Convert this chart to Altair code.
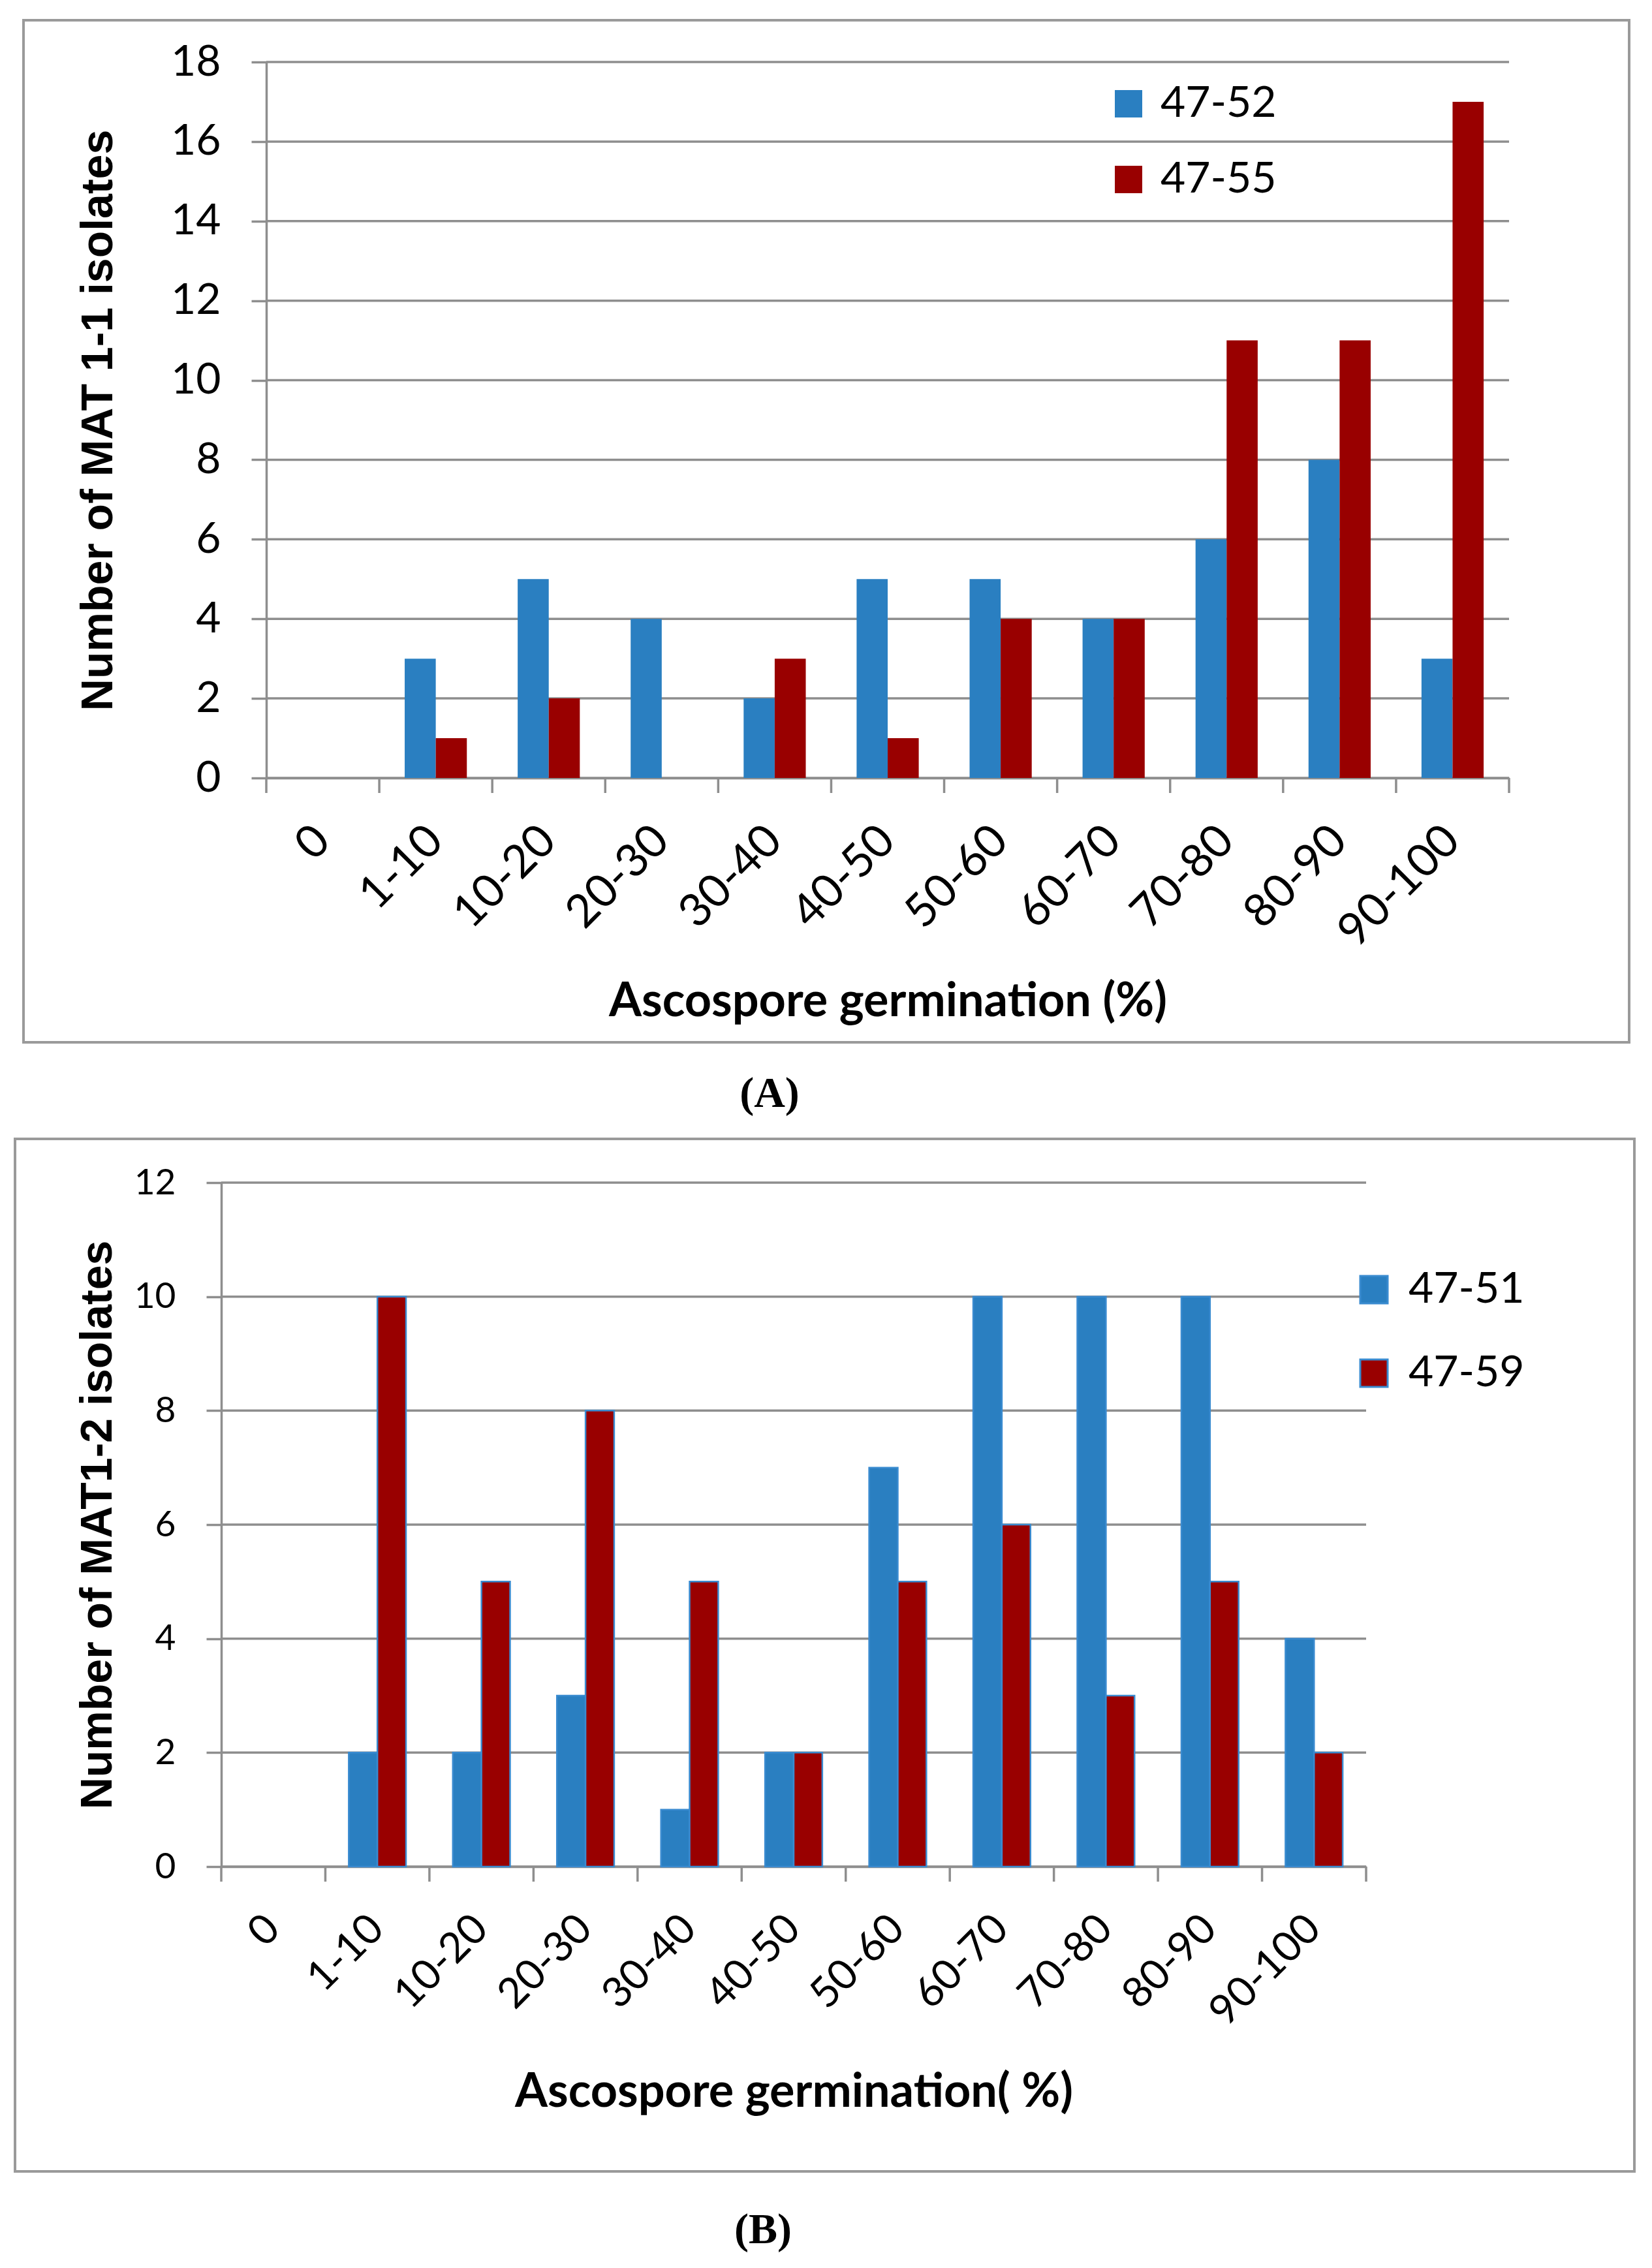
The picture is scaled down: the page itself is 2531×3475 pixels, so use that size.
import altair as alt
import pandas as pd

categories = ["0", "1-10", "10-20", "20-30", "30-40", "40-50", "50-60",
              "60-70", "70-80", "80-90", "90-100"]

a_series = ["47-52", "47-55"]
a_4752 = [0, 3, 5, 4, 2, 5, 5, 4, 6, 8, 3]
a_4755 = [0, 1, 2, 0, 3, 1, 4, 4, 11, 11, 17]
a_yticks = [0, 2, 4, 6, 8, 10, 12, 14, 16, 18]

b_series = ["47-51", "47-59"]
b_4751 = [0, 2, 2, 3, 1, 2, 7, 10, 10, 10, 4]
b_4759 = [0, 10, 5, 8, 5, 2, 5, 6, 3, 5, 2]
b_yticks = [0, 2, 4, 6, 8, 10, 12]

BLUE = "#2a7fc1"
RED = "#990000"
GRAY = "#8e8e8e"
FRAME = "#9a9a9a"


def long_df(series, v1, v2):
    rows = []
    for c, a, b in zip(categories, v1, v2):
        rows.append({"cat": c, "series": series[0], "value": a})
        rows.append({"cat": c, "series": series[1], "value": b})
    return pd.DataFrame(rows)


def panel(series, v1, v2, yticks, ymax, w, h, x0, ytitle, xtitle,
          ytick_fs, xtick_fs, ytitle_x, xtitle_y,
          leg_x, leg_y, leg_off, leg_row, bar_stroke,
          cell, frame, caption, cap_xy):
    # x0: where the plotted area (and the y axis) starts, relative to the
    # panel's origin; w: end of the plotted area.
    df = long_df(series, v1, v2)
    cats = pd.DataFrame({"cat": categories})
    last = pd.DataFrame({"cat": [categories[-1]]})
    grid = pd.DataFrame({"value": yticks})
    one = pd.DataFrame({"k": [0]})

    xscale = alt.Scale(domain=categories, range=[x0, w],
                       paddingInner=0, paddingOuter=0)
    yscale = alt.Scale(domain=[0, ymax], nice=False)
    xaxis = alt.Axis(title=xtitle, ticks=False, grid=False,
                     domainColor=GRAY, domainWidth=3.5,
                     labelAngle=315, labelAlign="right",
                     labelBaseline="middle", labelFont="Lato",
                     labelFontSize=xtick_fs, labelColor="black",
                     labelPadding=85, labelLimit=500,
                     labelOverlap=False,
                     titleFont="Lato", titleFontWeight="bold",
                     titleFontSize=72, titleColor="black",
                     titleY=xtitle_y, titleBaseline="middle",
                     titleLimit=2000)
    yaxis_kw = dict(title=ytitle, values=yticks, grid=False,
                    domainColor=GRAY, domainWidth=3.5,
                    tickColor=GRAY, tickWidth=3.5, tickSize=23,
                    labelFont="Lato", labelFontSize=ytick_fs,
                    labelColor="black", labelPadding=47,
                    labelOverlap=False,
                    titleFont="Liberation Sans",
                    titleFontWeight="bold", titleFontSize=68,
                    titleColor="black", titleAngle=270,
                    titleX=ytitle_x, titleY=h / 2,
                    titleAlign="center", titleBaseline="middle",
                    titleLimit=2000)
    if x0 < 0:
        yaxis_kw["offset"] = -x0
    yaxis = alt.Axis(**yaxis_kw)

    bar_kw = {}
    leg_kw = {"symbolStrokeWidth": 0}
    if bar_stroke:
        bar_kw = {"stroke": "#3a8bd0", "strokeWidth": 2.5}
        leg_kw = {"symbolStrokeColor": "#3a8bd0", "symbolStrokeWidth": 3}

    gridlines = alt.Chart(grid).mark_rule(color=GRAY, strokeWidth=3.5).encode(
        y=alt.Y("value:Q", scale=yscale, axis=yaxis),
        x=alt.value(x0), x2=alt.value(w))

    bars = alt.Chart(df).transform_filter("datum.value > 0").mark_bar(**bar_kw).encode(
        x=alt.X("cat:N", sort=categories, scale=xscale, axis=xaxis),
        xOffset=alt.XOffset("series:N", sort=series,
                            scale=alt.Scale(domain=series, paddingInner=0,
                                            paddingOuter=0.818)),
        y=alt.Y("value:Q", scale=yscale, axis=yaxis),
        color=alt.Color("series:N", sort=series,
                        scale=alt.Scale(domain=series, range=[BLUE, RED]),
                        legend=alt.Legend(title=None, orient="none",
                                          legendX=leg_x, legendY=leg_y,
                                          symbolType="square",
                                          symbolSize=1764,
                                          labelFont="Lato",
                                          labelFontSize=66,
                                          labelColor="black",
                                          labelOffset=leg_off,
                                          rowPadding=leg_row,
                                          labelLimit=500, padding=0,
                                          **leg_kw)),
    )

    ticks = alt.Chart(cats).mark_rule(color=GRAY, strokeWidth=3.5).encode(
        x=alt.X("cat:N", sort=categories, scale=xscale, bandPosition=0, axis=xaxis),
        y=alt.value(h), y2=alt.value(h + 23))
    last_tick = alt.Chart(last).mark_rule(color=GRAY, strokeWidth=3.5).encode(
        x=alt.X("cat:N", sort=categories, scale=xscale, bandPosition=1, axis=xaxis),
        y=alt.value(h), y2=alt.value(h + 23))

    cell_rect = alt.Chart(one).mark_rect(opacity=0).encode(
        x=alt.value(cell[0]), x2=alt.value(cell[1]),
        y=alt.value(cell[2]), y2=alt.value(cell[3]))
    frame_rect = alt.Chart(one).mark_rect(fillOpacity=0, stroke=FRAME,
                                          strokeWidth=4).encode(
        x=alt.value(frame[0]), x2=alt.value(frame[1]),
        y=alt.value(frame[2]), y2=alt.value(frame[3]))
    cap = alt.Chart(one).mark_text(text=caption, font="Liberation Serif",
                                   fontWeight="bold", fontSize=66,
                                   color="black", align="center",
                                   baseline="middle").encode(
        x=alt.value(cap_xy[0]), y=alt.value(cap_xy[1]))

    return alt.layer(cell_rect, frame_rect, gridlines, bars, ticks,
                     last_tick, cap).properties(width=w, height=h)


# Panel A: y axis at page x 408, plot top at page y 95
A = panel(a_series, a_4752, a_4755, a_yticks, 18, 1904, 1097, 0,
          "Number of MAT 1-1 isolates", "Ascospore germination (%)",
          66, 70, -257, 342,
          1288, 31, 16, 50, False,
          (-400, 2115, -87, 1625), (-372, 2088, -64, 1502),
          "(A)", (771, 1581))

# Panel B: same origin x (408) as A; its y axis sits 69 px further left
B = panel(b_series, b_4751, b_4759, b_yticks, 12, 1685, 1048, -69,
          "Number of MAT1-2 isolates", "Ascospore germination( %)",
          55, 64, -189, 345,
          1664, 131, 20, 62, True,
          (-400, 2115, -92, 1655), (-385, 2096, -67, 1515),
          "(B)", (761, 1605))

chart = alt.vconcat(A, B, spacing=0).resolve_scale(
    x="independent", y="independent", color="independent",
    xOffset="independent").resolve_legend(color="independent").properties(
    padding=0).configure_view(strokeWidth=0)

chart.save("out.html", embed_options={"renderer": "svg", "actions": False})
